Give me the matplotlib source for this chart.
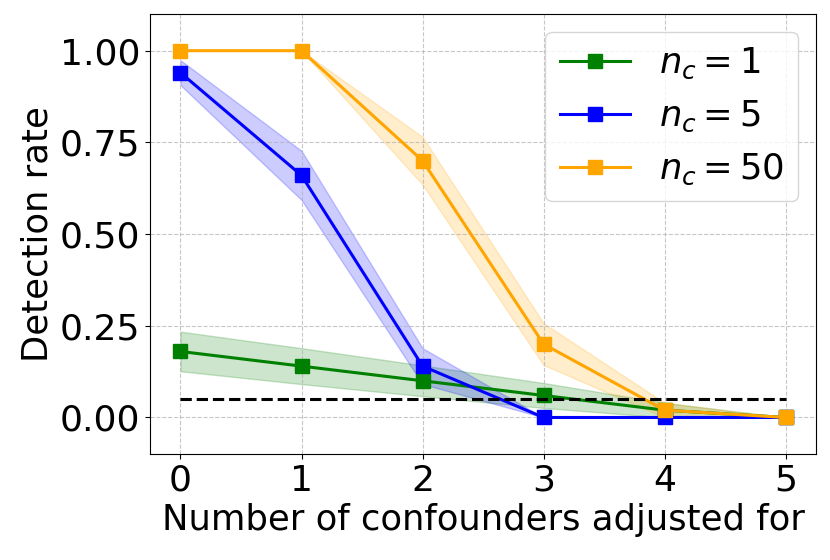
import numpy as np
import matplotlib.pyplot as plt

x = [0, 1, 2, 3, 4, 5]

# detection rates and band half widths
rate_1 = [0.18, 0.14, 0.10, 0.06, 0.02, 0.0]
err_1 = [0.054, 0.049, 0.042, 0.034, 0.020, 0.0]
rate_5 = [0.94, 0.66, 0.14, 0.0, 0.0, 0.0]
err_5 = [0.034, 0.067, 0.049, 0.0, 0.0, 0.0]
rate_50 = [1.0, 1.0, 0.70, 0.20, 0.02, 0.0]
err_50 = [0.0, 0.0, 0.065, 0.057, 0.020, 0.0]
threshold = 0.05

series = [
    (rate_1, err_1, 'green', r'$n_c = 1$'),
    (rate_5, err_5, 'blue', r'$n_c = 5$'),
    (rate_50, err_50, 'orange', r'$n_c = 50$'),
]

fig, ax = plt.subplots(figsize=(8.3, 5.6), dpi=100)
for r, e, c, lab in series:
    r, e = np.array(r), np.array(e)
    ax.plot(x, r, marker='s', color=c, lw=2.2, ms=10, label=lab)
    ax.fill_between(x, r - e, r + e, color=c, alpha=0.2)
ax.plot([x[0], x[-1]], [threshold, threshold], 'k--', lw=2.2)

ax.set_xlim(-0.25, 5.25)
ax.set_ylim(-0.1, 1.1)
ax.set_yticks([0, 0.25, 0.5, 0.75, 1.0])
ax.set_xticks(x)
ax.tick_params(labelsize=26)
ax.set_xlabel('Number of confounders adjusted for', fontsize=25.5)
ax.set_ylabel('Detection rate', fontsize=25.5)
ax.grid(True, ls='--', alpha=0.7)
ax.legend(fontsize=25.5, loc='upper right')
plt.subplots_adjust(left=0.181, right=0.983, top=0.975, bottom=0.189)
plt.savefig('out.png')
